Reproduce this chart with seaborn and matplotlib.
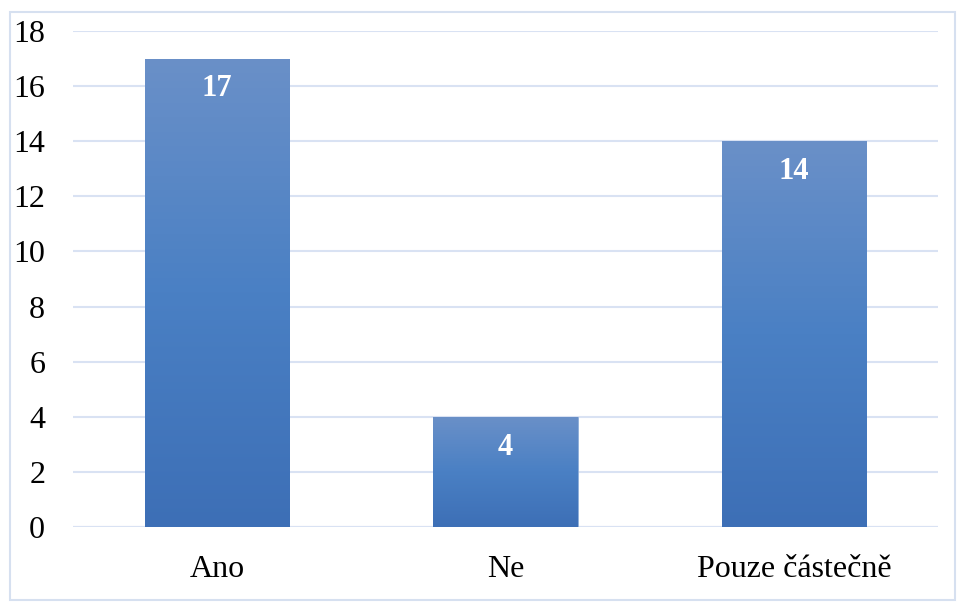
import matplotlib
matplotlib.use("Agg")
from matplotlib import pyplot as plt
from matplotlib.colors import LinearSegmentedColormap
from matplotlib.patches import Rectangle
import seaborn as sns
import pandas as pd
import numpy as np

# chart data
categories = ["Ano", "Ne", "Pouze částečně"]
counts = [17, 4, 14]
y_ticks = [0, 2, 4, 6, 8, 10, 12, 14, 16, 18]

GRID = "#d9e2f3"
TOP_COLOR = "#6a90c8"
BOTTOM_COLOR = "#3d6fb6"

sns.set_theme(style="white")
plt.rcParams['font.family'] = ['Liberation Serif', 'DejaVu Serif']

df = pd.DataFrame({"category": categories, "count": counts})

fig = plt.figure(figsize=(9.57, 6.04), dpi=100)
ax = fig.add_axes([73 / 957, 1 - 527 / 604, (938 - 73) / 957, (527 - 31) / 604])

sns.barplot(data=df, x="category", y="count", color=BOTTOM_COLOR, width=0.5, ax=ax, zorder=2)

# gradient fill for every bar, clipped to the bar shape
cmap = LinearSegmentedColormap.from_list("bar_grad", [BOTTOM_COLOR, "#4a80c4", TOP_COLOR])
grad = np.linspace(0, 1, 256).reshape(-1, 1)
for patch in ax.patches:
    x0, y0 = patch.get_x(), patch.get_y()
    w, h = patch.get_width(), patch.get_height()
    img = ax.imshow(grad, cmap=cmap, origin="lower", aspect="auto",
                    extent=[x0, x0 + w, y0, y0 + h], zorder=3)
    img.set_clip_path(patch)
    patch.set_edgecolor("#8fb0dc")
    patch.set_linewidth(0.6)

# value labels inside the top of each bar
for i, v in enumerate(counts):
    ax.text(i, v - 1.1, str(v), ha="center", va="center", color="white",
            fontsize=22, fontweight="bold", zorder=5)

ax.set_xlim(-0.5, len(categories) - 0.5)
ax.set_ylim(0, 18)
ax.set_yticks(y_ticks)
ax.yaxis.grid(True, color=GRID, linewidth=1.5, zorder=0)
ax.set_axisbelow(True)
for s in ax.spines.values():
    s.set_visible(False)
ax.axhline(0, color=GRID, linewidth=1.5, zorder=1)

ax.tick_params(axis="y", length=0, pad=20, labelsize=23, labelcolor="black")
ax.tick_params(axis="x", length=0, pad=20, labelsize=23, labelcolor="black")
ax.set_xlabel("")
ax.set_ylabel("")

# outer chart border
fig.patches.append(Rectangle((10 / 957, 1 - 600 / 604), 945 / 957, 588 / 604,
                             transform=fig.transFigure, fill=False,
                             edgecolor="#d6e0f0", linewidth=1.5))

fig.savefig("out.png", dpi=100)
